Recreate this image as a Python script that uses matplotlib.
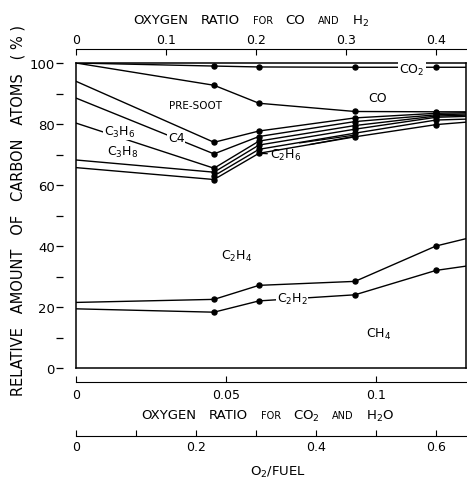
import matplotlib
matplotlib.use('Agg')
import matplotlib.pyplot as plt
import numpy as np
from matplotlib.offsetbox import TextArea, HPacker, AnnotationBbox

plt.rcParams['font.family'] = ['DejaVu Sans']
plt.rcParams['mathtext.fontset'] = 'dejavusans'

# runs, x as O2/fuel (last entry is where the lines hit the right frame)
o2_fuel = [0.0, 0.23, 0.305, 0.465, 0.60, 0.65]

# cumulative boundaries, % of carbon atoms, top to bottom
co2_line = [100.0, 99.0, 98.7, 98.6, 98.6, 98.6]
co_line = [100.0, 92.7, 86.8, 84.1, 84.0, 84.0]
presoot_line = [94.0, 74.0, 77.7, 82.0, 83.5, 83.7]
c4_line = [88.5, 70.2, 75.9, 80.8, 83.0, 83.3]
c3h6_line = [80.3, 65.5, 74.4, 79.5, 82.6, 82.9]
c3h8_line = [68.2, 64.2, 73.1, 78.3, 82.2, 82.5]
c2h6_upper = [np.nan, 63.0, 71.7, 77.0, 81.3, 81.6]
c2h6_line = [65.7, 61.8, 70.4, 75.8, 79.8, 80.6]
c2h4_line = [21.5, 22.5, 27.1, 28.4, 40.0, 42.4]
c2h2_line = [19.4, 18.3, 22.0, 24.0, 32.0, 33.4]

# two short strokes running into the third run
stub_a_x = [0.373, 0.462]
stub_a = [73.8, 76.3]
stub_b_x = [0.39, 0.462]
stub_b = [73.3, 75.9]

boundaries = [co2_line, co_line, presoot_line, c4_line, c3h6_line,
              c3h8_line, c2h6_upper, c2h6_line, c2h4_line, c2h2_line]

fig = plt.figure(figsize=(4.67, 4.81), dpi=100)
ax = fig.add_axes([76 / 467, 112 / 481, 390 / 467, 305 / 481])

for vals in boundaries:
    ax.plot(o2_fuel, vals, color='black', lw=1.0, zorder=2)
    ax.plot(o2_fuel[1:5], vals[1:5], 'o', color='black', ms=3.6, zorder=3)
ax.plot(stub_a_x, stub_a, color='black', lw=0.9)
ax.plot(stub_b_x, stub_b, color='black', lw=0.9)

ax.set_xlim(0, 0.65)
ax.set_ylim(0, 100)
ax.set_xticks([])
ax.set_yticks([])
for sp in ax.spines.values():
    sp.set_linewidth(1.1)


def label(x, y, s, size=9, bg=False):
    kw = dict(ha='center', va='center', fontsize=size, zorder=5)
    if bg:
        kw['bbox'] = dict(facecolor='white', edgecolor='none', pad=0.6)
    ax.text(x, y, s, **kw)


label(0.56, 98.0, 'CO$_2$', bg=True)
label(0.502, 88.8, 'CO')
label(0.20, 86.2, 'PRE-SOOT', size=7.5)
label(0.073, 77.6, 'C$_3$H$_6$', bg=True)
label(0.167, 75.6, 'C4', bg=True)
label(0.077, 71.0, 'C$_3$H$_8$')
label(0.267, 36.8, 'C$_2$H$_4$')
label(0.36, 22.8, 'C$_2$H$_2$', bg=True)
label(0.505, 11.2, 'CH$_4$')
ax.annotate('C$_2$H$_6$', xy=(o2_fuel[2], c2h6_line[2]), xytext=(8, -1),
            textcoords='offset points', ha='left', va='center', fontsize=9,
            arrowprops=dict(arrowstyle='-', color='black', lw=0.9,
                            shrinkA=0, shrinkB=0))

# y axis ticks sit a little left of the frame
ay = ax.secondary_yaxis(-0.033)
ay.spines['left'].set_visible(False)
ay.set_yticks([0, 20, 40, 60, 80, 100])
ay.set_yticks([10, 30, 50, 70, 90], minor=True)
ay.tick_params(which='both', direction='out', length=5, width=0.9, pad=1,
               labelsize=9.5)

# top: oxygen ratio for CO and H2
top = ax.secondary_xaxis(1.046, functions=(lambda v: v * 2 / 3, lambda v: v * 1.5))
top.set_xticks([0, 0.1, 0.2, 0.3, 0.4])
top.set_xticklabels(['0', '0.1', '0.2', '0.3', '0.4'])
top.tick_params(direction='in', length=4, width=0.8, pad=2, labelsize=9)
top.spines['top'].set_linewidth(0.8)

# bottom: oxygen ratio for CO2 and H2O
bot1 = ax.secondary_xaxis(-0.046, functions=(lambda v: v * 0.2, lambda v: v * 5))
bot1.set_xticks([0, 0.05, 0.1])
bot1.set_xticklabels(['0', '0.05', '0.1'])
bot1.tick_params(direction='in', length=4, width=0.8, pad=4, labelsize=9)
bot1.spines['bottom'].set_linewidth(0.8)

# bottom: O2/fuel
bot2 = ax.secondary_xaxis(-0.223, functions=(lambda v: v, lambda v: v))
bot2.set_xticks([0, 0.2, 0.4, 0.6])
bot2.set_xticklabels(['0', '0.2', '0.4', '0.6'])
bot2.set_xticks([0.1, 0.3, 0.5], minor=True)
bot2.tick_params(which='both', direction='in', length=4, width=0.8, pad=3,
                 labelsize=9)
bot2.spines['bottom'].set_linewidth(0.8)


def spaced_title(words, xy):
    boxes = [TextArea(w, textprops=dict(fontsize=s)) for w, s in words]
    pack = HPacker(children=boxes, align='baseline', pad=0, sep=9)
    ab = AnnotationBbox(pack, xy, xycoords='figure fraction', frameon=False,
                        box_alignment=(0.5, 0.5))
    fig.add_artist(ab)


spaced_title([('OXYGEN', 9.5), ('RATIO', 9.5), ('FOR', 7), ('CO', 9.5),
              ('AND', 7), ('H$_2$', 9.5)], (251 / 467, 1 - 21 / 481))
spaced_title([('OXYGEN', 9.5), ('RATIO', 9.5), ('FOR', 7), ('CO$_2$', 9.5),
              ('AND', 7), ('H$_2$O', 9.5)], (268 / 467, 1 - 416 / 481))
fig.text(278 / 467, 1 - 472 / 481, 'O$_2$/FUEL', ha='center', va='center',
         fontsize=9.5)

fig.text(18 / 467, 1 - 211 / 481,
         'RELATIVE   AMOUNT   OF   CARBON   ATOMS   ( % )',
         rotation=90, ha='center', va='center', fontsize=10.5)

fig.savefig('out.png', dpi=100)
